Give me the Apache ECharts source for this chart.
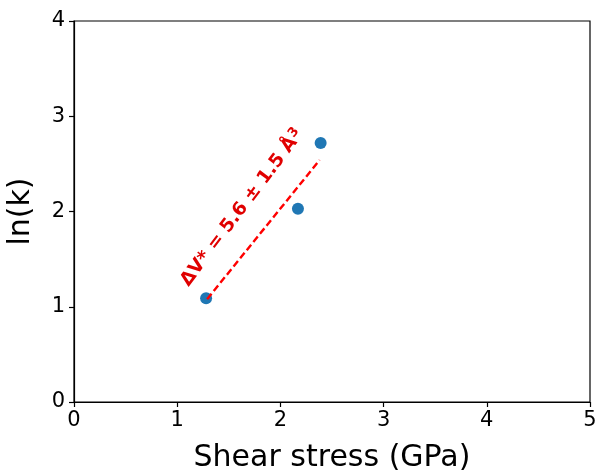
<!DOCTYPE html>
<html>
<head>
<meta charset="utf-8">
<script src="https://cdn.jsdelivr.net/npm/echarts@6/dist/echarts.min.js"></script>
<style>
  html, body { margin: 0; padding: 0; background: #fff; }
  #main { width: 597px; height: 472px; }
</style>
</head>
<body>
<div id="main"></div>
<script>
// measured points
var shearStress = [1.28, 2.17, 2.39];
var lnK = [1.09, 2.03, 2.72];
// fitted line (dashed)
var fitX = [1.29, 2.38];
var fitY = [1.08, 2.54];
var annotText = 'ΔV* = 5.6 ± 1.5 Å';
var annotAt = [1.63, 2.04]; // data coords of label centre
var xTicks = [0, 1, 2, 3, 4, 5];
var yTicks = [0, 1, 2, 3, 4];

var chart = echarts.init(document.getElementById('main'), null, { renderer: 'canvas' });
var font = 'DejaVu Sans';

var option = {
  animation: false,
  backgroundColor: '#fff',
  textStyle: { fontFamily: font },
  grid: {
    left: 74, right: 7, top: 21, bottom: 70,
    outerBoundsMode: 'none',
    show: true, borderColor: '#000', borderWidth: 1.2
  },
  xAxis: {
    type: 'value', min: xTicks[0], max: xTicks[xTicks.length - 1], interval: 1,
    name: 'Shear stress (GPa)', nameLocation: 'middle', nameGap: 41,
    nameTextStyle: { fontSize: 30, color: '#000', fontFamily: font },
    axisLine: { show: true, onZero: false, lineStyle: { color: '#000', width: 1.2 } },
    axisTick: { show: true, inside: false, length: 5, lineStyle: { color: '#000', width: 1.2 } },
    axisLabel: { fontSize: 21, color: '#000', margin: 8, fontFamily: font },
    splitLine: { show: false }
  },
  yAxis: {
    type: 'value', min: yTicks[0], max: yTicks[yTicks.length - 1], interval: 1,
    name: 'ln(k)', nameLocation: 'middle', nameGap: 38, nameRotate: 90,
    nameTextStyle: { fontSize: 30, color: '#000', fontFamily: font },
    axisLine: { show: true, onZero: false, lineStyle: { color: '#000', width: 1.2 } },
    axisTick: { show: true, inside: false, length: 5, lineStyle: { color: '#000', width: 1.2 } },
    axisLabel: { fontSize: 21, color: '#000', margin: 9, fontFamily: font },
    splitLine: { show: false }
  },
  series: [
    {
      type: 'scatter',
      data: shearStress.map(function (x, i) { return [x, lnK[i]]; }),
      symbolSize: 12,
      itemStyle: { color: '#1f77b4', opacity: 1 },
      z: 2
    },
    {
      type: 'line',
      data: fitX.map(function (x, i) { return [x, fitY[i]]; }),
      symbol: 'none',
      lineStyle: { color: '#ff0000', width: 2.4, type: [7, 3.5] },
      z: 3
    }
  ]
};
chart.setOption(option);

var p = chart.convertToPixel({ gridIndex: 0 }, annotAt);
chart.setOption({
  graphic: [{
    type: 'text',
    x: p[0], y: p[1],
    rotation: 53 * Math.PI / 180,
    style: {
      text: '{m|' + annotText + '}{s|3}',
      align: 'center',
      verticalAlign: 'middle',
      rich: {
        m: { fill: '#e00000', fontSize: 18.5, fontWeight: 'bold', fontFamily: font },
        s: { fill: '#e00000', fontSize: 13, fontWeight: 'bold', fontFamily: font, verticalAlign: 'top', padding: [0, 0, 8, 1] }
      }
    },
    z: 10
  }]
});
</script>
</body>
</html>
